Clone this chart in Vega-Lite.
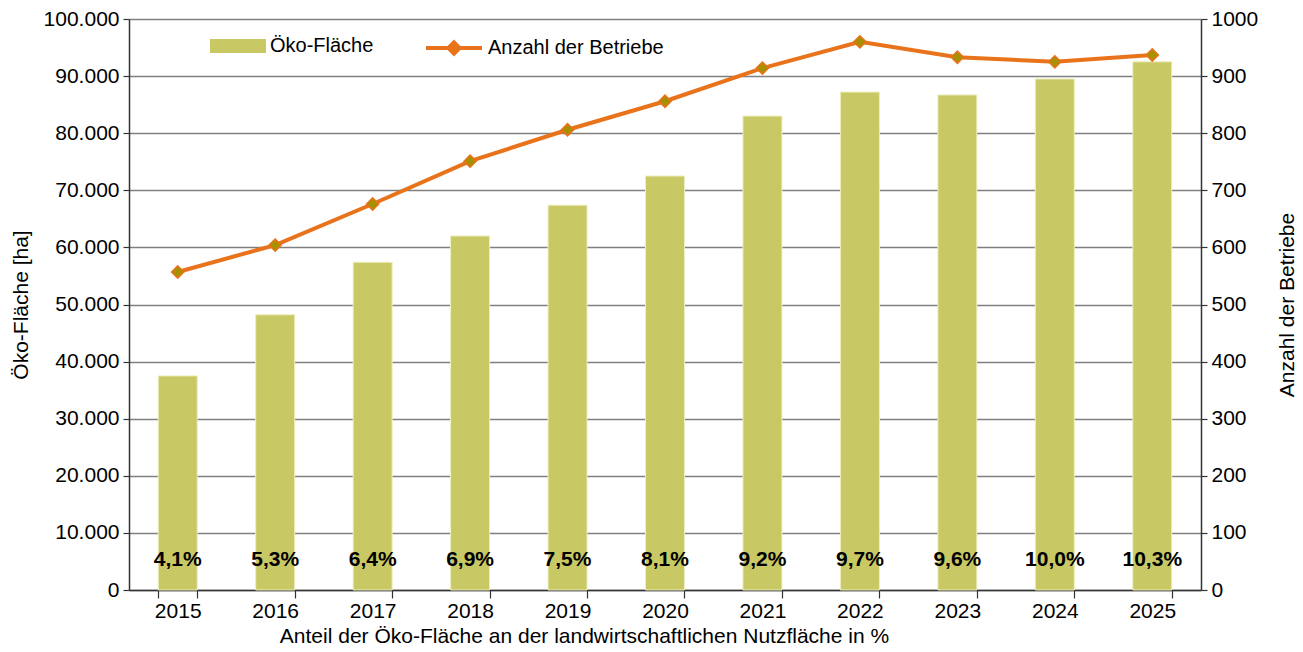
{
  "$schema": "https://vega.github.io/schema/vega-lite/v6.json",
  "width": 1072,
  "height": 571,
  "autosize": {"type": "none"},
  "padding": {"left": 129, "top": 19, "right": 102, "bottom": 62},
  "background": "white",
  "data": {
    "values": [
      {"year": "2015", "flaeche": 37500, "betriebe": 557, "anteil": 0.041},
      {"year": "2016", "flaeche": 48200, "betriebe": 604, "anteil": 0.053},
      {"year": "2017", "flaeche": 57400, "betriebe": 676, "anteil": 0.064},
      {"year": "2018", "flaeche": 62000, "betriebe": 751, "anteil": 0.069},
      {"year": "2019", "flaeche": 67400, "betriebe": 806, "anteil": 0.075},
      {"year": "2020", "flaeche": 72500, "betriebe": 856, "anteil": 0.081},
      {"year": "2021", "flaeche": 83000, "betriebe": 914, "anteil": 0.092},
      {"year": "2022", "flaeche": 87200, "betriebe": 960, "anteil": 0.097},
      {"year": "2023", "flaeche": 86700, "betriebe": 933, "anteil": 0.096},
      {"year": "2024", "flaeche": 89500, "betriebe": 925, "anteil": 0.100},
      {"year": "2025", "flaeche": 92500, "betriebe": 937, "anteil": 0.103}
    ]
  },
  "encoding": {
    "x": {
      "field": "year",
      "type": "ordinal",
      "scale": {"paddingInner": 0.6, "paddingOuter": 0.3},
      "axis": {
        "title": "Anteil der Öko-Fläche an der landwirtschaftlichen Nutzfläche in %",
        "titleX": 455,
        "titleAnchor": "middle",
        "titlePadding": 4,
        "labelAngle": 0,
        "tickBand": "extent",
        "tickSize": 8,
        "labelPadding": 2,
        "grid": false
      }
    }
  },
  "layer": [
    {
      "layer": [
        {
          "mark": {"type": "bar", "stroke": "#EEEEC0", "strokeWidth": 1},
          "encoding": {
            "y": {
              "field": "flaeche",
              "type": "quantitative",
              "scale": {"domain": [0, 100000]},
              "axis": {
                "title": "Öko-Fläche [ha]",
                "format": ",.0f",
                "tickCount": 10,
                "grid": true,
                "titlePadding": 12,
                "orient": "left"
              }
            },
            "fill": {
              "datum": "Öko-Fläche",
              "scale": {"range": ["#C8C864"]},
              "legend": {
                "title": null,
                "orient": "none",
                "legendX": 81,
                "legendY": -1,
                "symbolType": "M-1,-0.25H1V0.25H-1Z",
                "symbolSize": 3136,
                "symbolStrokeWidth": 0,
                "labelOffset": 4,
                "labelLimit": 0,
                "padding": 0
              }
            }
          }
        },
        {
          "mark": {"type": "text", "fontWeight": "bold", "fontSize": 21, "font": "Liberation Sans", "color": "black", "baseline": "middle"},
          "encoding": {
            "y": {"datum": 5300},
            "text": {"field": "anteil", "type": "quantitative", "format": ".1%"}
          }
        }
      ]
    },
    {
      "layer": [
        {
          "mark": {"type": "line", "strokeWidth": 4},
          "encoding": {
            "y": {
              "field": "betriebe",
              "type": "quantitative",
              "scale": {"domain": [0, 1000]},
              "axis": {
                "title": "Anzahl der Betriebe",
                "orient": "right",
                "format": "d",
                "tickCount": 10,
                "grid": false,
                "titleAngle": 270,
                "titleBaseline": "bottom",
                "titlePadding": 40
              }
            },
            "stroke": {
              "datum": "Anzahl der Betriebe",
              "scale": {"range": ["#E8731A"]},
              "legend": {
                "title": null,
                "orient": "none",
                "legendX": 295,
                "legendY": -1,
                "symbolType": "M-1,0H1M0,-0.2L0.2,0L0,0.2L-0.2,0Z",
                "symbolSize": 3136,
                "symbolStrokeWidth": 4,
                "symbolFillColor": "#A89100",
                "labelOffset": 4,
                "labelLimit": 0,
                "padding": 0
              }
            }
          }
        },
        {
          "mark": {"type": "point", "shape": "diamond", "size": 150, "filled": true, "fill": "#A89100", "stroke": "#E8731A", "strokeWidth": 1.5, "opacity": 1},
          "encoding": {
            "y": {"field": "betriebe", "type": "quantitative"}
          }
        }
      ]
    }
  ],
  "resolve": {"scale": {"y": "independent"}},
  "config": {
    "locale": {
      "number": {"decimal": ",", "thousands": ".", "grouping": [3], "currency": ["", " €"]}
    },
    "font": "Liberation Sans",
    "view": {"stroke": null},
    "axis": {
      "labelFont": "Liberation Sans",
      "titleFont": "Liberation Sans",
      "labelFontSize": 21,
      "titleFontSize": 21,
      "titleFontWeight": "normal",
      "labelColor": "black",
      "titleColor": "black",
      "domainColor": "#333333",
      "domainWidth": 1.5,
      "tickColor": "#333333",
      "tickWidth": 1.2,
      "tickSize": 6,
      "gridColor": "#808080",
      "gridWidth": 1.5,
      "labelPadding": 4
    },
    "legend": {
      "labelFont": "Liberation Sans",
      "labelFontSize": 20,
      "labelColor": "black"
    }
  }
}
